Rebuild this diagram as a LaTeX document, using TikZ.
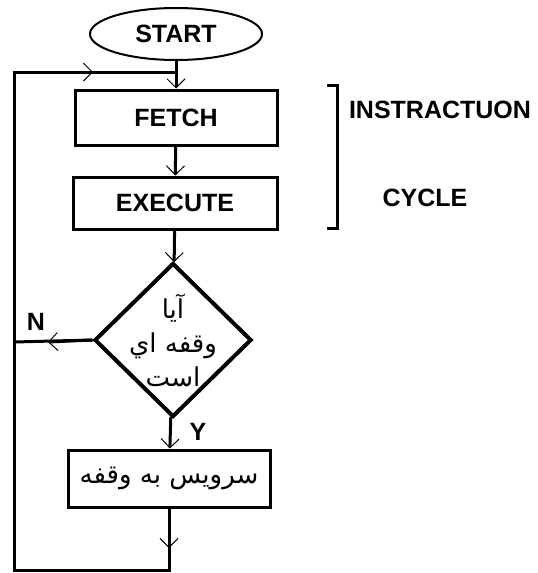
\documentclass[tikz,border=0pt]{standalone}
\usepackage{fontspec}
\setmainfont{Liberation Sans}
\newfontfamily\arabicfont[Script=Arabic]{DejaVu Sans}
\TeXXeTstate=1
\usetikzlibrary{arrows.meta,shapes.geometric}

\begin{document}
\begin{tikzpicture}[x=1pt,y=-1pt,line width=3pt,
    >={Straight Barb[length=9pt,width=18pt,line width=1pt]},
    font=\bfseries\fontsize{25}{30}\selectfont,
    box/.style={draw,rectangle,inner sep=0pt,minimum width=202pt},
    farsi/.style={font=\arabicfont\fontsize{26}{34}\selectfont,align=center},
    tag/.style={inner sep=0pt}]
  \useasboundingbox (0,0) rectangle (538,573);
  \node[draw,ellipse,line width=2pt,inner sep=0pt,minimum width=172pt,minimum height=52pt]
                       (start) at (176,34)    {START};
  \node[box,minimum height=55pt] (fetch) at (176,117.5) {FETCH};
  \node[box,minimum width=204pt,minimum height=52pt] (exec) at (175,203) {EXECUTE};
  \node[draw,diamond,aspect=1,line width=4pt,inner sep=0pt,minimum width=157pt,minimum height=154pt,
        label={[farsi]center:\beginR آيا\endR\\\beginR وقفه اي\endR\\\beginR است\endR}]
                       (dia) at (173,340)     {};
  \node[box,minimum height=57pt,farsi] (serv) at (169,478.5) {\beginR سرويس به وقفه\endR};
  \node[tag]           (no)  at (36,322)      {N};
  \node[tag]           (yes) at (198,432)     {Y};
  \node[tag]           (instr) at (440,110)   {INSTRACTUON};
  \node[tag]           (cycle) at (425,198)   {CYCLE};
  \coordinate (top) at (176,72);
  \coordinate (b1)  at (169,548);
  \coordinate (b2)  at (169,570);
  \coordinate (b3)  at (14,570);
  \coordinate (b4)  at (14,72);
  \coordinate (b5)  at (93,72);
  \coordinate (n1)  at (48,342);
  \coordinate (n2)  at (14,342);
  \path[->] (start) edge (fetch);
  \path[->] (fetch) edge (exec);
  \path[->] (exec)  edge (dia);
  \path[->] (dia)   edge (serv);
  \draw (dia.west) -- (n2);
  \draw[->] (dia.west) -- (n1);
  \draw (serv.south) -- (b2) -- (b3) -- (b4) -- (top);
  \draw[->] (serv.south) -- (b1);
  \draw[->] (b4) -- (b5);
  % bracket
  \draw (327,85) -- (337,85) -- (337,228) -- (327,228);
\end{tikzpicture}
\end{document}
